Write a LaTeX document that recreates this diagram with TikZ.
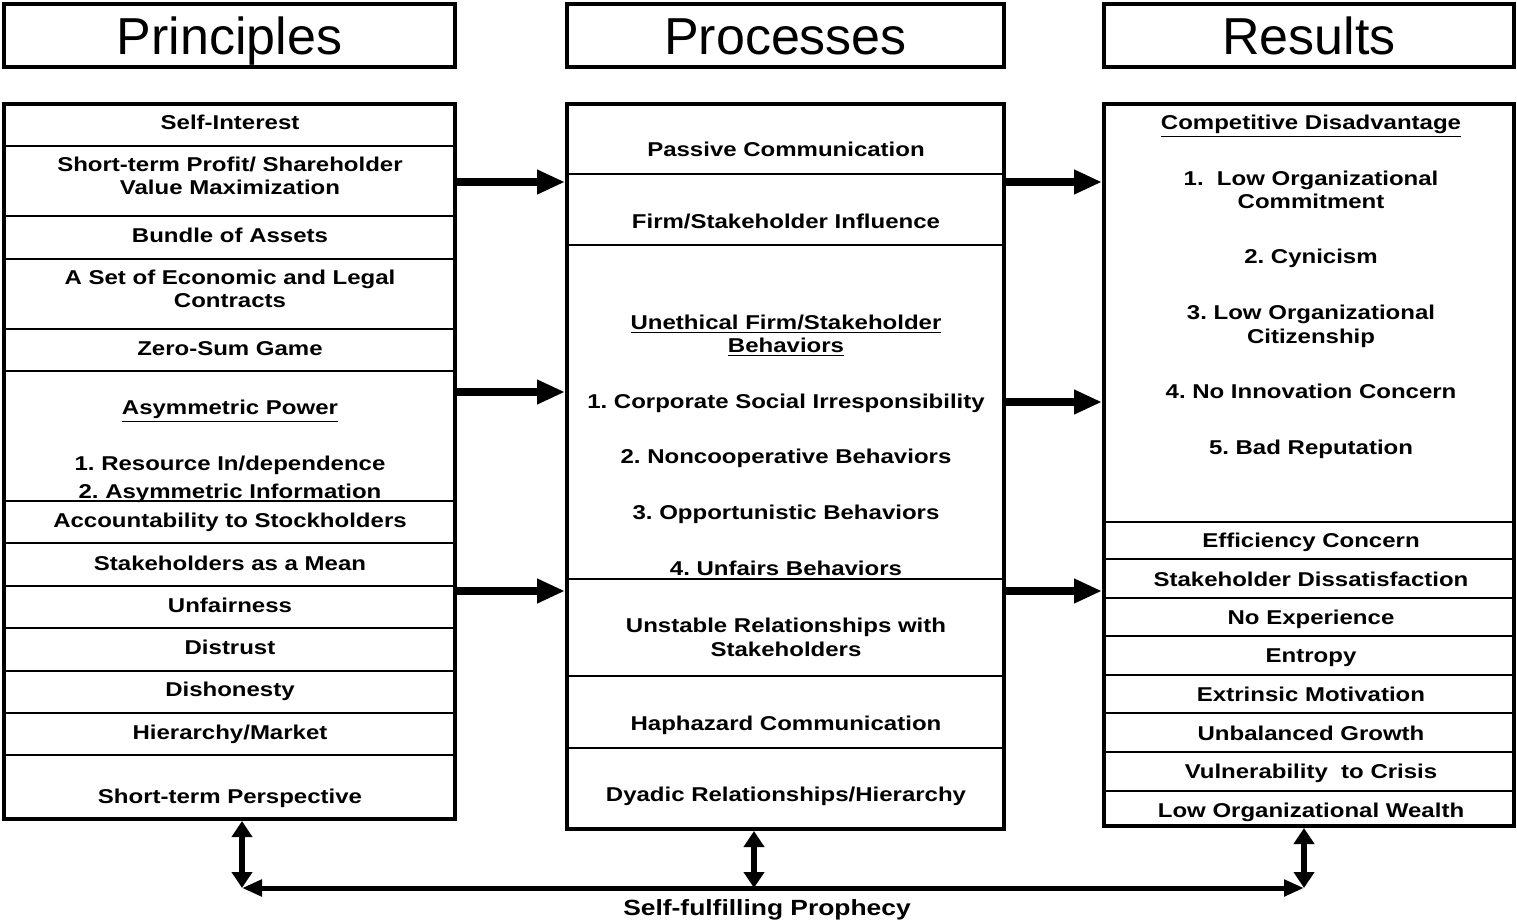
\documentclass[tikz,border=0pt]{standalone}
\usepackage{fontspec}
\setmainfont{Liberation Sans}
\newfontfamily\bodyfont[FakeStretch=1.2]{Liberation Sans}
\usetikzlibrary{arrows.meta}
\begin{document}
\frenchspacing
\begin{tikzpicture}[x=0.5pt,y=-0.5pt,
  colbox/.style={draw,line width=2pt,fill=white,inner sep=0pt},
  headbox/.style={draw,line width=2pt,fill=white,inner sep=0pt,minimum height=31.5pt,text height=18.6pt,text depth=0pt,font=\fontsize{26}{30}\selectfont},
  txt/.style={font=\bodyfont\bfseries\fontsize{10}{11.5}\selectfont,inner sep=0pt,anchor=base},
  div/.style={line width=1pt},
  bigarrow/.style={line width=4pt,-{Triangle[length=14pt,width=11.5pt]}},
  vdbl/.style={line width=3pt,{Triangle[length=8pt,width=10pt]}-{Triangle[length=8pt,width=10pt]}},
  hdbl/.style={line width=2.5pt,{Triangle[length=10pt,width=8pt]}-{Triangle[length=10pt,width=8pt]}}]
\useasboundingbox (0,0) rectangle (1517,921);

% headers
\node[headbox,minimum width=225.5pt] (hP) at (229.5,35.5) {Principles};
\node[headbox,minimum width=218.5pt] (hM) at (785.5,35.5) {Processes};
\node[headbox,minimum width=205pt] (hR) at (1309,35.5) {Results};

% columns
\node[colbox,minimum width=225.5pt,minimum height=357.5pt] (P) at (229.5,461.5) {};
\node[colbox,minimum width=218.5pt,minimum height=362.5pt] (M) at (785.5,466.5) {};
\node[colbox,minimum width=205pt,minimum height=361pt] (R) at (1309,465) {};

% dividers
\foreach \yy in {146,216,259,329,371,501,543,586,628,671,713,755}
  \draw[div] (P.west |- 0,\yy) -- (P.east |- 0,\yy);
\foreach \yy in {174,245,579,676,748}
  \draw[div] (M.west |- 0,\yy) -- (M.east |- 0,\yy);
\foreach \yy in {522,559,598,636,675,713,752,791}
  \draw[div] (R.west |- 0,\yy) -- (R.east |- 0,\yy);

% left texts
\node[txt] (p1) at (230,129) {Self-Interest};
\node[txt] (p2) at (230,171) {Short-term Profit/ Shareholder};
\node[txt] (p2b) at (230,194) {Value Maximization};
\node[txt] (p3) at (230,242) {Bundle of Assets};
\node[txt] (p4) at (230,284) {A Set of Economic and Legal};
\node[txt] (p4b) at (230,307) {Contracts};
\node[txt] (p5) at (230,355) {Zero-Sum Game};
\node[txt] (p6) at (230,414) {\underline{Asymmetric Power}};
\node[txt] (p6a) at (230,470) {1. Resource In/dependence};
\node[txt] (p6b) at (230,498) {2. Asymmetric Information};
\node[txt] (p7) at (230,527) {Accountability to Stockholders};
\node[txt] (p8) at (230,570) {Stakeholders as a Mean};
\node[txt] (p9) at (230,612) {Unfairness};
\node[txt] (p10) at (230,654) {Distrust};
\node[txt] (p11) at (230,696) {Dishonesty};
\node[txt] (p12) at (230,739) {Hierarchy/Market};
\node[txt] (p13) at (230,803) {Short-term Perspective};

% middle texts
\node[txt] (m1) at (786,156) {Passive Communication};
\node[txt] (m2) at (786,228) {Firm/Stakeholder Influence};
\node[txt] (m3) at (786,329) {\underline{Unethical Firm/Stakeholder}};
\node[txt] (m3b) at (786,352) {\underline{Behaviors}};
\node[txt] (m3c) at (786,408) {1. Corporate Social Irresponsibility};
\node[txt] (m3d) at (786,463) {2. Noncooperative Behaviors};
\node[txt] (m3e) at (786,519) {3. Opportunistic Behaviors};
\node[txt] (m3f) at (786,575) {4. Unfairs Behaviors};
\node[txt] (m4) at (786,632) {Unstable Relationships with};
\node[txt] (m4b) at (786,656) {Stakeholders};
\node[txt] (m5) at (786,730) {Haphazard Communication};
\node[txt] (m6) at (786,801) {Dyadic Relationships/Hierarchy};

% right texts
\node[txt] (r1) at (1311,129) {\underline{Competitive Disadvantage}};
\node[txt] (r1a) at (1311,185) {1.\ \ Low Organizational};
\node[txt] (r1b) at (1311,208) {Commitment};
\node[txt] (r1c) at (1311,263) {2. Cynicism};
\node[txt] (r1d) at (1311,319) {3. Low Organizational};
\node[txt] (r1e) at (1311,343) {Citizenship};
\node[txt] (r1f) at (1311,398) {4. No Innovation Concern};
\node[txt] (r1g) at (1311,454) {5. Bad Reputation};
\node[txt] (r2) at (1311,547) {Efficiency Concern};
\node[txt] (r3) at (1311,586) {Stakeholder Dissatisfaction};
\node[txt] (r4) at (1311,624) {No Experience};
\node[txt] (r5) at (1311,662) {Entropy};
\node[txt] (r6) at (1311,701) {Extrinsic Motivation};
\node[txt] (r7) at (1311,740) {Unbalanced Growth};
\node[txt] (r8) at (1311,778) {Vulnerability\ \ to Crisis};
\node[txt] (r9) at (1311,817) {Low Organizational Wealth};

% arrows between columns
\draw[bigarrow] (P.east |- 0,182) -- (M.west |- 0,182);
\draw[bigarrow] (P.east |- 0,392) -- (M.west |- 0,392);
\draw[bigarrow] (P.east |- 0,591) -- (M.west |- 0,591);
\draw[bigarrow] (M.east |- 0,182) -- (R.west |- 0,182);
\draw[bigarrow] (M.east |- 0,402) -- (R.west |- 0,402);
\draw[bigarrow] (M.east |- 0,591) -- (R.west |- 0,591);

% self-fulfilling prophecy loop
\coordinate (b1) at (242,888);
\coordinate (b2) at (754,888);
\coordinate (b3) at (1304,888);
\draw[vdbl] (P.south -| b1) -- (b1);
\draw[vdbl] (M.south -| b2) -- (b2);
\draw[vdbl] (R.south -| b3) -- (b3);
\draw[hdbl] (b1) -- (b3);
\node[txt,font=\bodyfont\bfseries\fontsize{11}{12}\selectfont] (sfp) at (767,915) {Self-fulfilling Prophecy};
\end{tikzpicture}
\end{document}
